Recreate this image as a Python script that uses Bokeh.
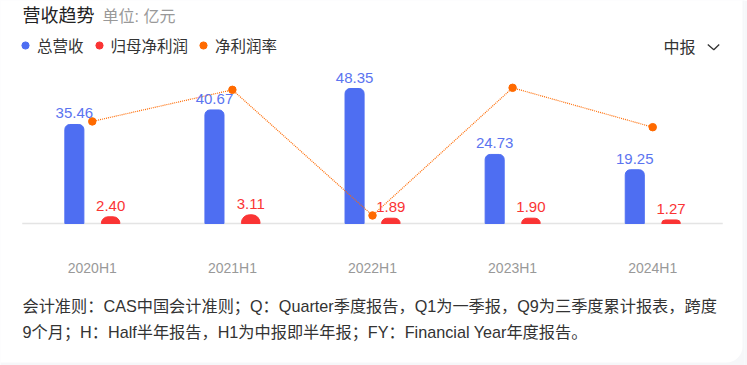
from bokeh.plotting import figure
from bokeh.models import (ColumnDataSource, FactorRange, Range1d, LabelSet, Label,
                          Legend, LegendItem, BoxAnnotation, PolyAnnotation)
from bokeh.transform import dodge
from bokeh.core.properties import value
from bokeh.embed import file_html
from bokeh.resources import INLINE

# ---- data ----
periods = ["2020H1", "2021H1", "2022H1", "2023H1", "2024H1"]
revenue = [35.46, 40.67, 48.35, 24.73, 19.25]        # 总营收 (亿元)
net_profit = [2.40, 3.11, 1.89, 1.90, 1.27]          # 归母净利润 (亿元)
net_margin = [6.68, 7.61, 3.91, 7.67, 6.51]          # 净利润率 (%)

BLUE = "#4e6ef2"
RED = "#fa3434"
ORANGE = "#ff6a00"
FONT = "Liberation Sans, Noto Sans CJK SC"

src = ColumnDataSource(dict(
    period=periods, revenue=revenue, profit=net_profit, margin=net_margin,
    rev_lbl=[f"{v:.2f}" for v in revenue],
    pro_lbl=[f"{v:.2f}" for v in net_profit],
    zero=[0] * len(periods),
))

xr = FactorRange(*periods, range_padding=0.1552, range_padding_units="absolute")

p = figure(width=747, height=365, x_range=xr,
           y_range=Range1d(-50.86, 79.87), output_backend="svg", toolbar_location=None,
           min_border=0, min_border_right=3)
p.extra_y_ranges = {"pct": Range1d(-0.5096, 10.2415)}
p.background_fill_color = "#f6f7f9"
p.border_fill_color = "#f6f7f9"
p.outline_line_color = None
p.grid.visible = False
p.xaxis.visible = False
p.yaxis.visible = False

card = BoxAnnotation(left=-20, right=742, top=-20, bottom=362,
                     left_units="canvas", right_units="canvas", top_units="canvas", bottom_units="canvas",
                     fill_color="white", fill_alpha=1, line_color=None, border_radius=16, level="underlay")
p.add_layout(card)

# baseline across the category extent
base_src = ColumnDataSource(dict(a=[periods[0]], b=[periods[-1]], y=[0]))
p.segment(x0=dodge("a", -0.5, range=xr), x1=dodge("b", 0.5, range=xr), y0="y", y1="y",
          source=base_src, line_color="#e4e4e4", line_width=1.5)

p.vbar(x=dodge("period", -0.128, range=xr), top="revenue", width=0.136, source=src,
       color=BLUE, border_radius=(5, 5, 0, 0))
p.vbar(x=dodge("period", 0.131, range=xr), top="profit", width=0.133, source=src,
       color=RED, border_radius=(8, 8, 0, 0))
p.line(x="period", y="margin", source=src, y_range_name="pct", color=ORANGE, line_width=1.2,
       line_dash="1 1")
p.scatter(x="period", y="margin", source=src, y_range_name="pct", color=ORANGE, size=7.5)

p.add_layout(LabelSet(x=dodge("period", -0.128, range=xr), y="revenue", text="rev_lbl",
                      source=src, text_align="center", text_baseline="alphabetic", y_offset=6,
                      text_color="#5b74f0", text_font_size="15px", text_font=value(FONT)))
p.add_layout(LabelSet(x=dodge("period", 0.131, range=xr), y="profit", text="pro_lbl",
                      source=src, text_align="center", text_baseline="alphabetic", y_offset=6,
                      text_color=RED, text_font_size="15px", text_font=value(FONT)))
# category labels
p.add_layout(LabelSet(x="period", y="zero", text="period", source=src, text_align="center",
                      text_baseline="middle", y_offset=-45, text_color="#999999",
                      text_font_size="14px", text_font=value(FONT)))

# legend (hidden proxy renderers drawn as dots)
r1 = p.scatter(x="period", y="revenue", source=src, color=BLUE, size=7.5, visible=False)
r2 = p.scatter(x="period", y="profit", source=src, color=RED, size=7.5, visible=False)
r3 = p.scatter(x="period", y="margin", source=src, y_range_name="pct", color=ORANGE, size=7.5,
               visible=False)
leg = Legend(items=[LegendItem(label="总营收", renderers=[r1]),
                    LegendItem(label="归母净利润", renderers=[r2]),
                    LegendItem(label="净利润率", renderers=[r3])],
             orientation="horizontal", location=(16, 309), padding=0, margin=0,
             spacing=6, glyph_width=18, glyph_height=18, label_standoff=3,
             label_text_font_size="15.5px", label_text_font=FONT, label_text_color="#333333",
             border_line_color=None, background_fill_alpha=0, inactive_fill_alpha=0)
p.add_layout(leg, "center")

def txt(x, y, t, size, color, base="middle"):
    p.add_layout(Label(x=x, y=y, x_units="canvas", y_units="canvas", text=t,
                       text_font_size=size, text_color=color, text_font=FONT,
                       text_baseline=base, text_align="left"))

txt(22, 15, "营收趋势", "18px", "#222222")
txt(102, 16, "单位: 亿元", "16px", "#999999")
txt(663, 47, "中报", "16px", "#333333")
p.add_layout(PolyAnnotation(xs=[707.3, 713.3, 718.7, 713.3], ys=[44, 49.3, 44, 49.3],
                            xs_units="canvas", ys_units="canvas", fill_alpha=0,
                            line_color="#333333", line_alpha=1, line_width=1.3))
txt(22, 305, "会计准则：CAS中国会计准则；Q：Quarter季度报告，Q1为一季报，Q9为三季度累计报表，跨度", "16.2px", "#333333")
txt(22, 331, "9个月；H：Half半年报告，H1为中报即半年报；FY：Financial Year年度报告。", "16.2px", "#333333")

open("out.html", "w").write(file_html(p, INLINE))
